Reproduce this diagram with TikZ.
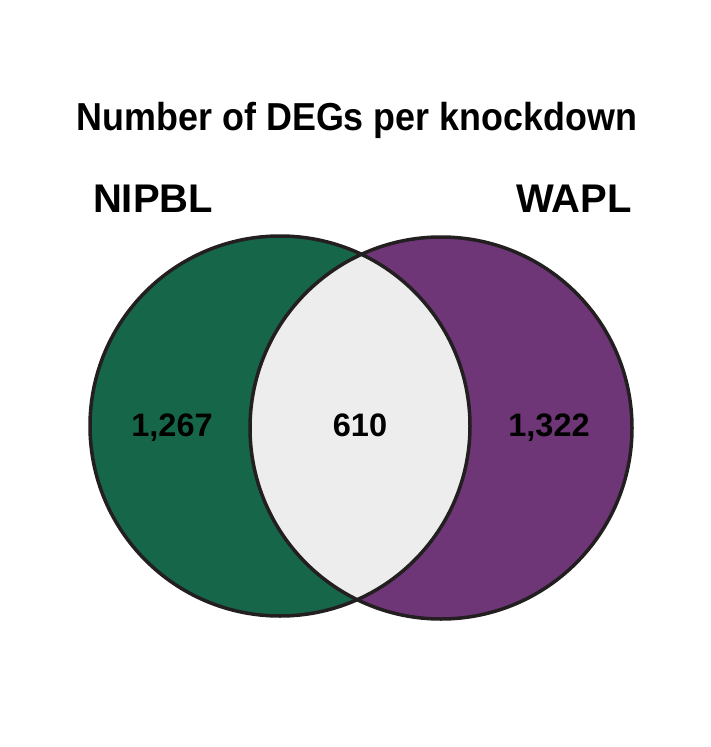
\documentclass[tikz,border=0pt]{standalone}
\usepackage{fontspec}
\setmainfont{Liberation Sans}

\definecolor{nipblgreen}{HTML}{16664A}
\definecolor{waplpurple}{HTML}{6F3677}
\definecolor{sharedgray}{HTML}{EDEDED}
\definecolor{rimdark}{HTML}{231F20}

\tikzset{
  setlabel/.style={anchor=base, font=\fontsize{40}{48}\selectfont\bfseries},
  countlabel/.style={anchor=base, font=\fontsize{32.5}{39}\selectfont\bfseries},
  rim/.style={draw=rimdark, line width=3.5pt}
}

\begin{document}
\begin{tikzpicture}[x=1pt, y=-1pt]

\useasboundingbox (0,0) rectangle (711,747);

% the two sets
\fill[nipblgreen] (280,426) circle (190pt);
\fill[waplpurple] (441,428) circle (191pt);

% overlap
\begin{scope}
\clip (280,426) circle (190pt);
\fill[sharedgray] (441,428) circle (191pt);
\end{scope}

\draw[rim] (280,426) circle (190pt);
\draw[rim] (441,428) circle (191pt);

\node [anchor=base, font=\fontsize{39}{47}\selectfont\bfseries] (title) at (357,130)
  {\scalebox{0.92}[1]{Number of DEGs per knockdown}};

\node [setlabel] (nipbl) at (153,212) {NIPBL};
\node [setlabel] (wapl) at (574,212) {WAPL};

\node [countlabel] (onlynipbl) at (172,436) {1,267};
\node [countlabel] (both) at (360,436) {610};
\node [countlabel] (onlywapl) at (549,436) {1,322};

\end{tikzpicture}
\end{document}
